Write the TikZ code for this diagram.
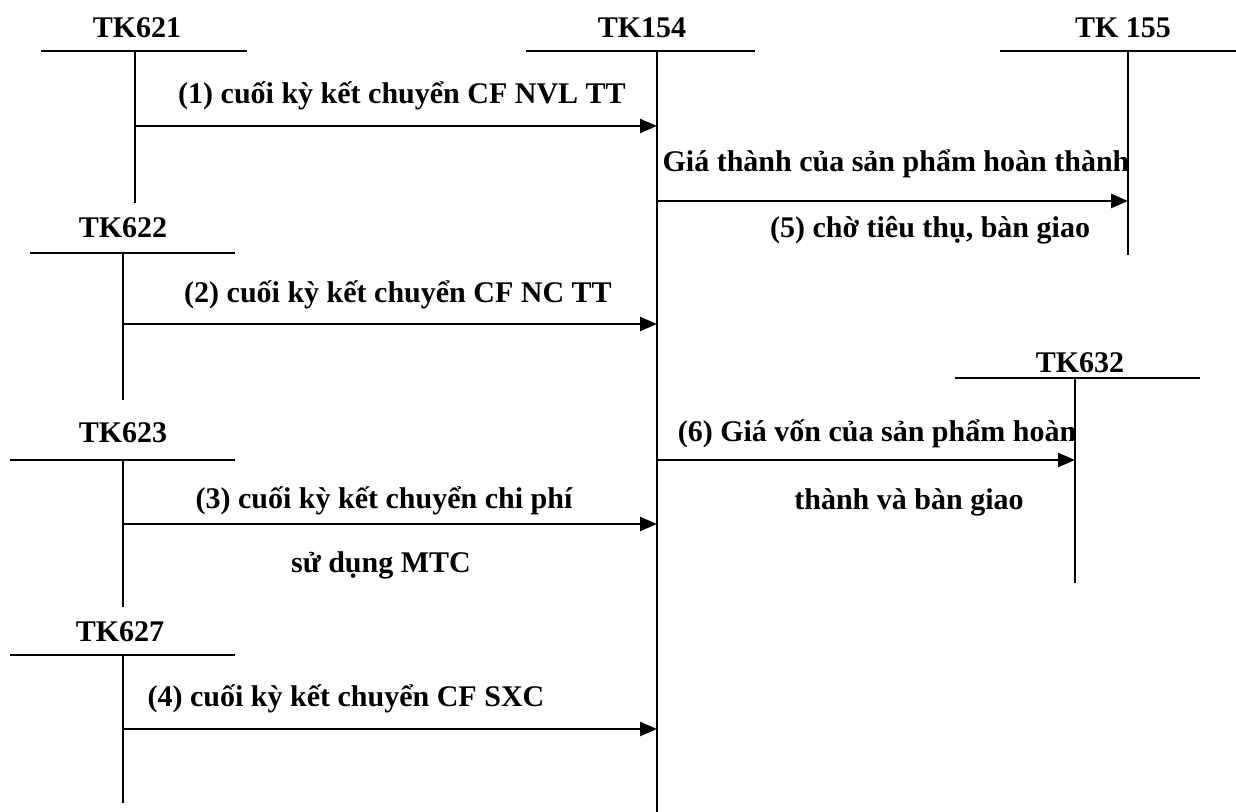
\documentclass[tikz,border=0pt]{standalone}
\usepackage{fontspec}
\setmainfont{Liberation Serif}
\usetikzlibrary{arrows.meta}
\begin{document}
\begin{tikzpicture}[x=0.5pt,y=-0.5pt,
  acct/.style={font=\fontsize{15}{18}\selectfont\bfseries, inner sep=0pt, anchor=base},
  lbl/.style={font=\fontsize{15}{18}\selectfont\bfseries, inner sep=0pt, anchor=base},
  tline/.style={line width=1pt},
  flow/.style={line width=1.2pt, -{Triangle[length=8.5pt,width=7pt]}}]
\useasboundingbox (0,0) rectangle (1236,812);

% account headings
\node[acct] (h621) at (137,38) {TK621};
\node[acct] (h154) at (642,38) {TK154};
\node[acct] (h155) at (1123,38) {TK 155};
\node[acct] (h622) at (123,238) {TK622};
\node[acct] (h632) at (1080,372) {TK632};
\node[acct] (h623) at (123,443) {TK623};
\node[acct] (h627) at (120,641) {TK627};

% T-account lines
\draw[tline] (41,51) -- (247,51);
\draw[tline] (135,51) coordinate (t621) -- (135,203) coordinate (b621);
\draw[tline] (526,51) -- (755,51);
\draw[tline] (657,51) coordinate (t154) -- (657,812) coordinate (b154);
\draw[tline] (1000,51) -- (1236,51);
\draw[tline] (1128,51) coordinate (t155) -- (1128,255) coordinate (b155);
\draw[tline] (30,253) -- (235,253);
\draw[tline] (123,253) coordinate (t622) -- (123,400) coordinate (b622);
\draw[tline] (955,378) -- (1200,378);
\draw[tline] (1075,378) coordinate (t632) -- (1075,583) coordinate (b632);
\draw[tline] (10,460) -- (235,460);
\draw[tline] (123,460) coordinate (t623) -- (123,607) coordinate (b623);
\draw[tline] (10,655) -- (235,655);
\draw[tline] (123,655) coordinate (t627) -- (123,803) coordinate (b627);

% flows between accounts
\coordinate (s1) at (135,126);
\coordinate (s2) at (123,324);
\coordinate (s3) at (123,524);
\coordinate (s4) at (123,729);
\coordinate (s5) at (657,201);
\coordinate (s6) at (657,460);
\draw[flow] (s1) -- (s1 -| t154);
\draw[flow] (s2) -- (s2 -| t154);
\draw[flow] (s3) -- (s3 -| t154);
\draw[flow] (s4) -- (s4 -| t154);
\draw[flow] (s5) -- (s5 -| t155);
\draw[flow] (s6) -- (s6 -| t632);

% flow labels
\node[lbl] (l1) at (402,104) {(1) cuối kỳ kết chuyển CF NVL TT};
\node[lbl] (l5a) at (896,172) {Giá thành của sản phẩm hoàn thành};
\node[lbl] (l5b) at (930,238) {(5) chờ tiêu thụ, bàn giao};
\node[lbl] (l2) at (398,303) {(2) cuối kỳ kết chuyển CF NC TT};
\node[lbl] (l6a) at (877,441) {(6) Giá vốn của sản phẩm hoàn};
\node[lbl] (l6b) at (909,509) {thành và bàn giao};
\node[lbl] (l3a) at (384,508) {(3) cuối kỳ kết chuyển chi phí};
\node[lbl] (l3b) at (381,572) {sử dụng MTC};
\node[lbl] (l4) at (346,706) {(4) cuối kỳ kết chuyển CF SXC};
\end{tikzpicture}
\end{document}
